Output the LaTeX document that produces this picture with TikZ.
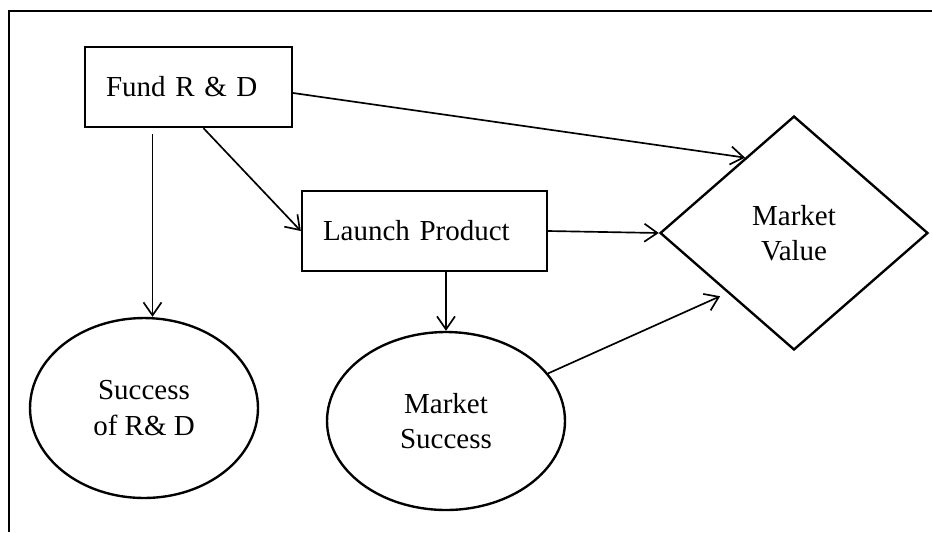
\documentclass[tikz,border=0pt]{standalone}
\usepackage{fontspec}
\setmainfont{Liberation Serif}
\usetikzlibrary{arrows.meta,shapes.geometric}
\tikzset{
  dgdecision/.style={
    draw,
    line width=1.35pt,
    minimum height=1.6cm,
    inner xsep=.42cm,
    align=left
  },
  dgchance/.style={
    draw,
    ellipse,
    line width=1.35pt,
    inner sep=0pt,
    align=center
  },
  dgvalue/.style={
    draw,
    diamond,
    line width=1.35pt,
    inner sep=0pt,
    align=center,
    minimum width=5.36cm,
    minimum height=4.68cm
  },
  dgarrow/.style={-{Straight Barb[length=2.6mm,width=3.6mm]},line width=.95pt},
  dgframe/.style={line width=1.35pt}
}
\begin{document}
\begin{tikzpicture}[x=.02cm,y=-.02cm,font=\fontsize{16.5}{20}\selectfont]
        \useasboundingbox (0,0) rectangle (932,532);
        \draw[dgframe] (932,11) -- (9,11) -- (9,532);
        % decisions, chance nodes and the value node
        \node[dgdecision,text width=3.3cm] (fund) at (188.5,87) {Fund R \& D};
        \node[dgdecision,text width=4.06cm] (launch) at (424.5,231) {Launch Product};
        \node[dgchance,minimum width=4.56cm,minimum height=3.6cm] (rdsuccess) at (144,408) {Success\\of R\& D};
        \node[dgchance,minimum width=4.76cm,minimum height=3.56cm] (mksuccess) at (446,421) {Market\\Success};
        \node[dgvalue] (mkvalue) at (794,233) {Market\\Value};
        % influences
        \draw[dgarrow,shorten <=.12cm] ([xshift=-.72cm]fund.south) -- ([xshift=-.72cm]fund.south |- rdsuccess.north);
        \draw[dgarrow] ([xshift=.3cm]fund.south) -- (launch.west);
        \draw[dgarrow] ([yshift=-.12cm]fund.east) -- (mkvalue.123);
        \draw[dgarrow] (launch.east) -- (mkvalue.west);
        \draw[dgarrow] (mksuccess.north |- launch.south) -- (mksuccess.north);
        \draw[dgarrow,shorten >=.16cm] (mksuccess.25) -- (mkvalue.222);
      \end{tikzpicture}
\end{document}
